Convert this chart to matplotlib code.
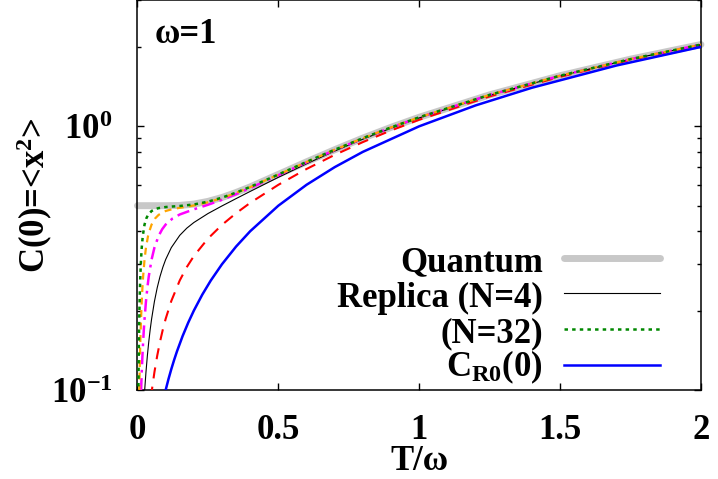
import matplotlib
matplotlib.use("Agg")
import matplotlib.pyplot as plt
from matplotlib.lines import Line2D
from matplotlib.ticker import LogLocator, NullFormatter, FixedLocator

plt.rcParams['font.family'] = ['Liberation Serif', 'DejaVu Serif']
plt.rcParams['font.weight'] = 'bold'
plt.rcParams['axes.labelweight'] = 'bold'
plt.rcParams['mathtext.fontset'] = 'custom'
plt.rcParams['mathtext.rm'] = 'Liberation Serif:bold'
plt.rcParams['mathtext.it'] = 'Liberation Serif:bold'
plt.rcParams['mathtext.bf'] = 'Liberation Serif:bold'
plt.rcParams['lines.scale_dashes'] = False

# Quantum result (grey, thick)
T_quantum = [0, 0.05, 0.1, 0.15, 0.2, 0.25, 0.3, 0.35, 0.4, 0.5, 0.6, 0.7, 0.8, 0.9, 1.0, 1.25, 1.5, 1.75, 2.0]
C_quantum = [0.500, 0.500, 0.500, 0.501, 0.507, 0.519, 0.537, 0.561, 0.589, 0.657, 0.733, 0.815, 0.902, 0.991, 1.082, 1.316, 1.555, 1.797, 2.042]

# Replica N=2 (red dashed)
T_n2 = [0.04, 0.05, 0.06, 0.07, 0.08, 0.09, 0.1, 0.12, 0.15, 0.175, 0.2, 0.25, 0.3, 0.35, 0.4, 0.5, 0.6, 0.7, 0.8, 0.9, 1.0, 1.25, 1.5, 1.75, 2.0]
C_n2 = [0.0790, 0.0981, 0.1167, 0.1349, 0.1526, 0.1697, 0.1862, 0.2175, 0.2603, 0.2925, 0.3220, 0.3750, 0.4230, 0.4682, 0.5124, 0.6000, 0.6888, 0.7792, 0.8712, 0.9645, 1.0588, 1.2981, 1.5405, 1.7850, 2.0308]

# Replica N=4 (black solid)
T_n4 = [0.02, 0.025, 0.03, 0.035, 0.04, 0.045, 0.05, 0.06, 0.07, 0.08, 0.09, 0.1, 0.12, 0.15, 0.175, 0.2, 0.25, 0.3, 0.35, 0.4, 0.5, 0.6, 0.7, 0.8, 0.9, 1.0, 1.25, 1.5, 1.75, 2.0]
C_n4 = [0.0790, 0.0981, 0.1167, 0.1348, 0.1524, 0.1694, 0.1857, 0.2164, 0.2443, 0.2696, 0.2922, 0.3125, 0.3467, 0.3859, 0.4109, 0.4316, 0.4667, 0.4990, 0.5319, 0.5663, 0.6405, 0.7208, 0.8056, 0.8936, 0.9839, 1.0760, 1.3114, 1.5515, 1.7942, 2.0388]

# Replica N=8 (magenta dash-dot)
T_n8 = [0.01, 0.0125, 0.015, 0.0175, 0.02, 0.0225, 0.025, 0.03, 0.035, 0.04, 0.05, 0.06, 0.075, 0.0875, 0.1, 0.125, 0.15, 0.2, 0.25, 0.3, 0.35, 0.4, 0.5, 0.6, 0.7, 0.8, 0.9, 1.0, 1.25, 1.5, 1.75, 2.0]
C_n8 = [0.0790, 0.0981, 0.1167, 0.1348, 0.1524, 0.1694, 0.1857, 0.2164, 0.2443, 0.2695, 0.3124, 0.3463, 0.3841, 0.4069, 0.4241, 0.4476, 0.4630, 0.4843, 0.5039, 0.5266, 0.5532, 0.5833, 0.6524, 0.7298, 0.8127, 0.8995, 0.9890, 1.0805, 1.3148, 1.5542, 1.7966, 2.0408]

# Replica N=16 (orange dashed)
T_n16 = [0.005, 0.00625, 0.0075, 0.00875, 0.01, 0.01125, 0.0125, 0.015, 0.0175, 0.02, 0.025, 0.03, 0.0375, 0.04, 0.05, 0.0625, 0.075, 0.1, 0.125, 0.15, 0.2, 0.25, 0.3, 0.35, 0.4, 0.5, 0.6, 0.7, 0.8, 0.9, 1.0, 1.25, 1.5, 1.75, 2.0]
C_n16 = [0.0790, 0.0981, 0.1167, 0.1348, 0.1524, 0.1694, 0.1857, 0.2164, 0.2443, 0.2695, 0.3124, 0.3463, 0.3841, 0.3940, 0.4240, 0.4472, 0.4615, 0.4773, 0.4854, 0.4908, 0.5009, 0.5149, 0.5343, 0.5590, 0.5879, 0.6555, 0.7321, 0.8146, 0.9010, 0.9902, 1.0816, 1.3157, 1.5549, 1.7972, 2.0413]

# Replica N=32 (green dotted)
T_n32 = [0.0025, 0.003125, 0.00375, 0.004375, 0.005, 0.005625, 0.00625, 0.0075, 0.00875, 0.01, 0.0125, 0.015, 0.01875, 0.025, 0.03125, 0.0375, 0.05, 0.0625, 0.075, 0.1, 0.125, 0.15, 0.2, 0.25, 0.3, 0.35, 0.4, 0.5, 0.6, 0.7, 0.8, 0.9, 1.0, 1.25, 1.5, 1.75, 2.0]
C_n32 = [0.0790, 0.0981, 0.1167, 0.1348, 0.1524, 0.1694, 0.1857, 0.2164, 0.2443, 0.2695, 0.3124, 0.3463, 0.3841, 0.4240, 0.4472, 0.4615, 0.4772, 0.4851, 0.4895, 0.4941, 0.4965, 0.4986, 0.5053, 0.5177, 0.5363, 0.5605, 0.5890, 0.6563, 0.7327, 0.8150, 0.9014, 0.9905, 1.0819, 1.3159, 1.5551, 1.7973, 2.0414]

# Classical C_R0(0) (blue solid)
T_cl = [0.09, 0.1, 0.11, 0.12, 0.13, 0.14, 0.16, 0.18, 0.2, 0.23, 0.26, 0.3, 0.35, 0.4, 0.5, 0.6, 0.7, 0.8, 1.0, 1.2, 1.4, 1.7, 2.0]
C_cl = [0.09, 0.1, 0.11, 0.12, 0.13, 0.14, 0.16, 0.18, 0.2, 0.23, 0.26, 0.3, 0.35, 0.4, 0.5, 0.6, 0.7, 0.8, 1.0, 1.2, 1.4, 1.7, 2.0]

x_ticks = [0, 0.5, 1, 1.5, 2]
x_ticklabels = ['0', '0.5', '1', '1.5', '2']
legend_labels = ['Quantum', 'Replica (N=4)', '(N=32)', r'C$_{\mathrm{R0}}$(0)']

FS = 25

style_q = dict(color='#c8c8c8', lw=5, solid_capstyle='round')
style_n2 = dict(color='#ff0000', lw=1.5, dashes=(8, 6))
style_n4 = dict(color='black', lw=0.8)
style_n8 = dict(color='#ff00ff', lw=1.8, dashes=(9, 4, 2, 4))
style_n16 = dict(color='#ffa500', lw=1.6, dashes=(5, 4))
style_n32 = dict(color='#008800', lw=1.8, dashes=(2.5, 3))
style_cl = dict(color='#0000ff', lw=1.8)

fig = plt.figure(figsize=(7.18, 4.79), dpi=100)
ax = fig.add_axes([0.1915, 0.1858, 0.7847, 0.8132])

ax.plot(T_quantum, C_quantum, clip_on=False, zorder=2, **style_q)
ax.plot(T_n2, C_n2, zorder=3, **style_n2)
ax.plot(T_n4, C_n4, zorder=3, **style_n4)
ax.plot(T_n8, C_n8, zorder=3, **style_n8)
ax.plot(T_n16, C_n16, zorder=3, **style_n16)
ax.plot(T_n32, C_n32, zorder=3, **style_n32)
ax.plot(T_cl, C_cl, zorder=3, **style_cl)

ax.set_yscale('log')
ax.set_xlim(0, 2)
ax.set_ylim(0.1, 3.0)

ax.xaxis.set_major_locator(FixedLocator(x_ticks))
ax.set_xticklabels(x_ticklabels)
ax.yaxis.set_major_locator(FixedLocator([0.1, 1.0]))
ax.set_yticklabels([r'$10^{-1}$', r'$10^{0}$'])
ax.yaxis.set_minor_locator(LogLocator(base=10, subs=range(2, 10)))
ax.yaxis.set_minor_formatter(NullFormatter())

ax.tick_params(which='both', direction='in', top=True, right=True, labelsize=FS, width=1)
ax.tick_params(which='major', length=5)
ax.tick_params(which='minor', length=3)
ax.tick_params(axis='x', pad=17)
ax.tick_params(axis='y', pad=18)
for s in ax.spines.values():
    s.set_linewidth(1.1)

ax.set_xlabel(r'T/ω', fontsize=FS, fontweight='bold', labelpad=-1)
ax.set_ylabel(r'C(0)=<x$^{2}$>', fontsize=FS, fontweight='bold', labelpad=-3)

ax.text(0.031, 0.89, 'ω=1', transform=ax.transAxes, fontsize=FS, va='baseline')

# key, drawn gnuplot-style: right-aligned text, sample on the right
key_styles = [style_q, style_n4, style_n32, style_cl]
key_line_y = [0.3385, 0.2479, 0.1556, 0.0641]
key_text_y = [0.3051, 0.2128, 0.1213, 0.0341]
for lab, st, ly, ty in zip(legend_labels, key_styles, key_line_y, key_text_y):
    ax.text(0.7196, ty, lab, transform=ax.transAxes, fontsize=FS, ha='right', va='baseline')
    ln = Line2D([0.757, 0.928], [ly, ly], transform=ax.transAxes, **st)
    ax.add_line(ln)

fig.savefig('out.png', dpi=100)
